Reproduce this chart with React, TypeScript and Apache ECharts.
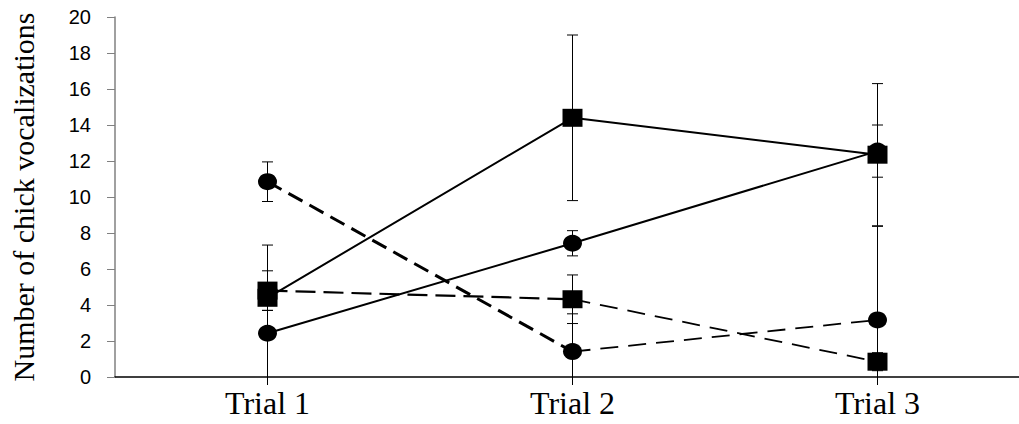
import React, { useEffect, useRef } from "react";
import * as echarts from "echarts";

const categories = ["Trial 1", "Trial 2", "Trial 3"];
const yTicks = { min: 0, max: 20, interval: 2 };

const solidSquare = [4.4, 14.4, 12.35];
const solidSquareErr = [0.7, 4.6, 3.95];
const solidCircle = [2.43, 7.43, 12.55];
const solidCircleErr = [4.9, 0.7, 1.45];
const dashedSquare = [4.8, 4.32, 0.85];
const dashedSquareErr = [1.1, 1.35, 0.5];
const dashedCircle = [10.85, 1.41, 3.17];
const dashedCircleErr = [1.1, 2.1, 5.2];

function errData(vals: number[], errs: number[]) {
  return vals.map((v, i) => [i, v - errs[i], v + errs[i]]);
}

function errSeries(vals: number[], errs: number[]) {
  return {
    type: "custom",
    z: 1,
    silent: true,
    data: errData(vals, errs),
    renderItem: (params: any, api: any) => {
      const x = api.value(0);
      const lo = api.value(1);
      const hi = api.value(2);
      const top = api.coord([x, hi]);
      const bot = api.coord([x, Math.max(lo, 0)]);
      const w = 5.5;
      const style = { stroke: "#000", lineWidth: 1 };
      const children: any[] = [
        { type: "line", shape: { x1: top[0], y1: top[1], x2: bot[0], y2: bot[1] }, style },
        { type: "line", shape: { x1: top[0] - w, y1: top[1], x2: top[0] + w, y2: top[1] }, style },
      ];
      if (lo >= 0) {
        children.push({ type: "line", shape: { x1: bot[0] - w, y1: bot[1], x2: bot[0] + w, y2: bot[1] }, style });
      }
      return { type: "group", children };
    },
  };
}

// keep only the segment between category a and a+1
function segment(vals: number[], a: number) {
  return vals.map((v, i) => (i === a || i === a + 1 ? v : null));
}

function lineSeries(vals: (number | null)[], symbol: string, size: number[], lineStyle: any, z = 3) {
  return {
    type: "line",
    z,
    data: vals,
    symbol,
    symbolSize: size,
    showSymbol: symbol !== "none",
    connectNulls: false,
    itemStyle: { color: "#000", borderWidth: 0 },
    lineStyle: { color: "#000", ...lineStyle },
  };
}

export default function App() {
  const ref = useRef<HTMLDivElement>(null);
  useEffect(() => {
    if (!ref.current) return;
    const chart = echarts.init(ref.current, null, { renderer: "svg" });
    chart.setOption({
      animation: false,
      backgroundColor: "#fff",
      grid: { left: 114, right: 0, top: 17, bottom: 47, containLabel: false },
      xAxis: {
        type: "category",
        data: categories,
        boundaryGap: true,
        axisLine: { lineStyle: { color: "#000", width: 1.5 } },
        axisTick: { show: true, alignWithLabel: true, length: 8, lineStyle: { color: "#000", width: 1 } },
        axisLabel: { color: "#000", fontFamily: "Liberation Serif", fontSize: 32, margin: 10 },
        splitLine: { show: false },
      },
      yAxis: {
        type: "value",
        min: yTicks.min,
        max: yTicks.max,
        interval: yTicks.interval,
        name: "Number of chick vocalizations",
        nameLocation: "middle",
        nameGap: 77,
        nameRotate: 90,
        nameTextStyle: { color: "#000", fontFamily: "Liberation Serif", fontSize: 30 },
        axisLine: { show: true, lineStyle: { color: "#808080", width: 1.5 } },
        axisTick: { show: true, length: 8, lineStyle: { color: "#808080", width: 1 } },
        axisLabel: { color: "#000", fontFamily: "Liberation Sans", fontSize: 20, margin: 24 },
        splitLine: { show: false },
      },
      series: [
        errSeries(solidSquare, solidSquareErr),
        errSeries(solidCircle, solidCircleErr),
        errSeries(dashedSquare, dashedSquareErr),
        errSeries(dashedCircle, dashedCircleErr),
        lineSeries(solidSquare, "rect", [20, 18], { width: 2, type: "solid" }),
        lineSeries(solidCircle, "circle", [19, 17], { width: 2, type: "solid" }),
        lineSeries(segment(dashedSquare, 0), "none", [0, 0], { width: 2.2, type: [20, 8] }, 2),
        lineSeries(segment(dashedSquare, 1), "none", [0, 0], { width: 1.8, type: [18, 10] }, 2),
        lineSeries(dashedSquare, "rect", [20, 18], { width: 0, opacity: 0 }),
        lineSeries(segment(dashedCircle, 0), "none", [0, 0], { width: 3, type: [16, 8] }, 2),
        lineSeries(segment(dashedCircle, 1), "none", [0, 0], { width: 1.8, type: [18, 10] }, 2),
        lineSeries(dashedCircle, "circle", [19, 17], { width: 0, opacity: 0 }),
      ],
    });
    return () => chart.dispose();
  }, []);
  return (
    <div style={{ position: "absolute", left: 0, top: 0, width: 1019, height: 424, overflow: "hidden" }}>
      <div ref={ref} style={{ width: 1030, height: 424 }} />
    </div>
  );
}
